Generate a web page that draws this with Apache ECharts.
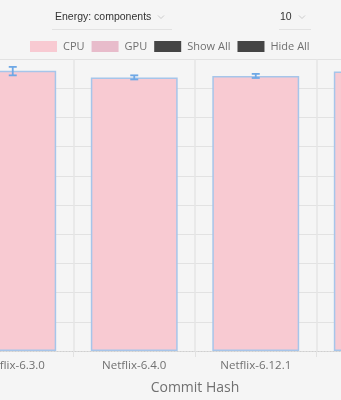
<!DOCTYPE html>
<html>
<head>
<meta charset="utf-8">
<style>
html,body{margin:0;padding:0;background:#f5f5f5;overflow:hidden;width:341px;height:400px;position:relative;}
#chart{width:486px;height:400px;position:absolute;left:-48px;top:0;}
</style>
<script src="https://cdn.jsdelivr.net/npm/echarts@6/dist/echarts.min.js"></script>
</head>
<body>
<div id="chart"></div>
<script>
// Data (y-axis is off-screen; values read on a 0-100 scale)
const categories = ["Netflix-6.3.0", "Netflix-6.4.0", "Netflix-6.12.1", ""];
const cpuValues = [96.0, 93.7, 94.2, 95.7];
const gpuValues = [0, 0, 0, 0];
const errLow = [94.4, 93.0, 93.5, null];
const errHigh = [97.3, 94.4, 94.9, null];
const legendNames = ["CPU", "GPU", "Show All", "Hide All"];
const metricLabel = "Energy: components";
const countLabel = "10";
const xAxisName = "Commit Hash";

const OFF = 48; // container is shifted 48px left of the visible window
const chart = echarts.init(document.getElementById('chart'));

const errData = categories.map((c, i) => [i, errLow[i], errHigh[i]]).filter(d => d[1] != null);

const caret = (x, y) => ({
  type: 'polyline',
  shape: { points: [[x + OFF - 3, y - 1.5], [x + OFF, y + 1.5], [x + OFF + 3, y - 1.5]] },
  style: { stroke: '#cccccc', lineWidth: 1, fill: null }
});

const option = {
  backgroundColor: '#f5f5f5',
  animation: false,
  grid: { left: 0, right: 0, top: 59, bottom: 43, containLabel: false },
  legend: {
    data: legendNames,
    top: 41,
    left: 30 + OFF,
    padding: 0,
    itemWidth: 27,
    itemHeight: 11,
    itemGap: 7,
    icon: 'rect',
    itemStyle: { borderWidth: 0 },
    textStyle: { color: '#707070', fontSize: 11, fontFamily: 'Open Sans', padding: [0, 0, 0, 1] }
  },
  graphic: [
    { type: 'text', left: 55 + OFF, top: 12, style: { text: metricLabel, fill: '#333', font: '10.5px "Liberation Sans", Arial' } },
    caret(161, 17),
    { type: 'line', shape: { x1: 52 + OFF, y1: 29.5, x2: 172 + OFF, y2: 29.5 }, style: { stroke: '#e2e2e2', lineWidth: 1 } },
    { type: 'text', left: 280 + OFF, top: 12, style: { text: countLabel, fill: '#333', font: '10.5px "Liberation Sans", Arial' } },
    caret(302, 17),
    { type: 'line', shape: { x1: 279 + OFF, y1: 29.5, x2: 311 + OFF, y2: 29.5 }, style: { stroke: '#e2e2e2', lineWidth: 1 } }
  ],
  xAxis: {
    type: 'category',
    data: categories,
    name: xAxisName,
    nameLocation: 'middle',
    nameGap: 30,
    nameTextStyle: { color: '#707070', fontSize: 14, fontFamily: 'Open Sans' },
    axisLine: { show: true, lineStyle: { color: '#cfcfcf', type: [1, 2] } },
    axisTick: { show: true, length: 6, lineStyle: { color: '#e2e2e2' } },
    axisLabel: { interval: 0, color: '#707070', fontSize: 11.5, fontFamily: 'Open Sans', margin: 9 },
    splitLine: { show: true, lineStyle: { color: '#e4e4e4', width: 1.5 } }
  },
  yAxis: {
    type: 'value',
    min: 0, max: 100, interval: 10,
    axisLine: { show: false },
    axisTick: { show: false },
    axisLabel: { show: false },
    splitLine: { show: true, lineStyle: { color: '#e2e2e2', width: 1.2 } }
  },
  series: [
    {
      name: 'CPU', type: 'bar', stack: 'e', data: cpuValues, barWidth: '71.5%',
      itemStyle: { color: '#f8cad2', borderColor: '#a6c5ea', borderWidth: 1.5 }
    },
    {
      name: 'GPU', type: 'bar', stack: 'e', data: gpuValues, barWidth: '71.5%',
      itemStyle: { color: '#e8bccb', borderWidth: 0 }
    },
    { name: 'Show All', type: 'line', data: [], color: '#454545', itemStyle: { color: '#454545' } },
    { name: 'Hide All', type: 'line', data: [], color: '#454545', itemStyle: { color: '#454545' } },
    {
      name: 'err', type: 'custom', data: errData, z: 10,
      renderItem: function (params, api) {
        const x = api.coord([api.value(0), 0])[0];
        const lo = api.coord([api.value(0), api.value(1)])[1];
        const hi = api.coord([api.value(0), api.value(2)])[1];
        const hw = 4;
        const st = { stroke: '#6ea8e6', lineWidth: 1.8 };
        return {
          type: 'group',
          children: [
            { type: 'line', shape: { x1: x, y1: lo, x2: x, y2: hi }, style: st },
            { type: 'line', shape: { x1: x - hw, y1: lo, x2: x + hw, y2: lo }, style: st },
            { type: 'line', shape: { x1: x - hw, y1: hi, x2: x + hw, y2: hi }, style: st }
          ]
        };
      }
    }
  ]
};
chart.setOption(option);
</script>
</body>
</html>
